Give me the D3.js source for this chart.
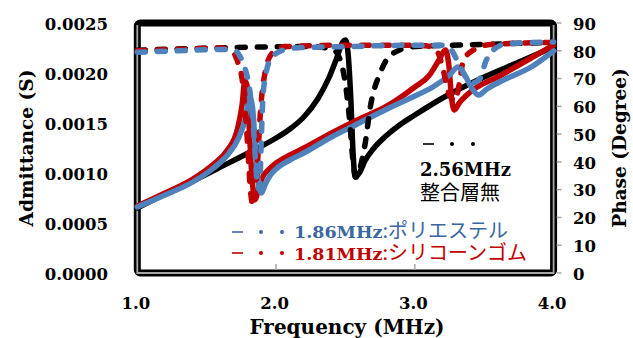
<!DOCTYPE html>
<html><head><meta charset="utf-8">
<script src="https://cdn.jsdelivr.net/npm/d3@7"></script>
<style>
html,body{margin:0;padding:0;background:#fff;}
svg{display:block;}
</style></head>
<body>
<svg id="chart" width="633" height="338"></svg>
<script>
// ---------- data ----------
const freqTicks = [1.0, 2.0, 3.0, 4.0];
const admTicks = [0, 0.0005, 0.0010, 0.0015, 0.0020, 0.0025];
const phaseTicks = [0, 10, 20, 30, 40, 50, 60, 70, 80, 90];

// No matching layer (2.56 MHz) : [MHz, S] and [MHz, deg]
const noLayerAdm = [[1.0,0.00065],[1.2,0.00079],[1.4,0.00092],[1.6,0.00106],[1.8,0.00120],[2.0,0.00135],[2.1,0.00144],[2.2,0.00156],[2.3,0.00174],[2.38,0.00195],[2.44,0.00216],[2.48,0.00231],[2.50,0.00233],[2.52,0.00218],[2.54,0.00170],[2.555,0.00120],[2.57,0.00096],[2.6,0.00100],[2.64,0.00112],[2.7,0.00124],[2.8,0.00138],[2.9,0.00149],[3.0,0.00158],[3.2,0.00175],[3.5,0.00196],[3.75,0.00211],[4.0,0.00226]];
const noLayerPhase = [[1.0,80.2],[1.4,80.8],[1.8,81.3],[2.2,81.5],[2.4,80.8],[2.46,77],[2.5,68],[2.53,55],[2.555,40],[2.575,34.5],[2.6,37],[2.64,46],[2.68,60],[2.75,72],[2.84,79],[3.0,81.5],[3.5,82.3],[4.0,83]];

// Silicone rubber (1.81 MHz)
const siliconeAdm = [[1.0,0.00067],[1.2,0.00080],[1.4,0.00094],[1.55,0.00109],[1.65,0.00123],[1.72,0.00143],[1.755,0.00168],[1.775,0.00192],[1.79,0.00188],[1.805,0.00150],[1.825,0.00098],[1.85,0.00074],[1.87,0.00082],[1.9,0.00095],[1.95,0.00104],[2.0,0.00110],[2.1,0.00118],[2.2,0.00125],[2.4,0.00140],[2.6,0.00154],[2.8,0.00167],[3.0,0.00186],[3.1,0.00197],[3.17,0.00212],[3.22,0.00223],[3.245,0.00208],[3.265,0.00175],[3.285,0.00163],[3.32,0.00170],[3.4,0.00181],[3.61,0.00197],[3.8,0.00212],[4.0,0.00228]];
const siliconePhase = [[1.0,80],[1.3,80.5],[1.6,81],[1.68,80],[1.72,76.5],[1.76,68],[1.79,50],[1.815,30],[1.835,24],[1.86,35],[1.89,60],[1.92,72],[1.97,79],[2.06,81.5],[2.5,82],[3.0,82],[3.12,81.5],[3.17,79],[3.21,72],[3.25,64],[3.29,62],[3.32,68],[3.35,76.5],[3.43,80.5],[3.55,82.3],[4.0,83]];

// Polyester (1.86 MHz)
const polyesterAdm = [[1.0,0.00066],[1.2,0.00078],[1.4,0.00091],[1.55,0.00105],[1.65,0.00118],[1.73,0.00135],[1.78,0.00155],[1.81,0.00176],[1.83,0.00166],[1.85,0.00128],[1.875,0.00088],[1.895,0.00080],[1.92,0.00088],[1.96,0.00098],[2.0,0.00104],[2.1,0.00113],[2.2,0.00120],[2.4,0.00136],[2.6,0.00150],[2.8,0.00164],[3.0,0.00177],[3.13,0.00186],[3.25,0.00198],[3.31,0.00206],[3.36,0.00198],[3.41,0.00185],[3.46,0.00178],[3.52,0.00184],[3.61,0.00191],[3.85,0.00207],[4.0,0.00222]];
const polyesterPhase = [[1.0,79.5],[1.3,80],[1.6,80.5],[1.7,80.2],[1.74,78],[1.78,73],[1.81,66],[1.84,50],[1.865,32],[1.88,30],[1.895,50],[1.905,63],[1.925,71],[1.96,77],[2.03,79.8],[2.12,81],[2.5,81.5],[3.0,82],[3.2,82],[3.26,80.5],[3.31,76],[3.36,71],[3.42,68.5],[3.47,70],[3.51,76],[3.57,80.5],[3.66,82.5],[4.0,83.2]];

// ---------- chart ----------
const svg = d3.select("#chart");
const L = 137.3, R = 553.6, T = 23, B = 273;
const x = d3.scaleLinear().domain([1, 4]).range([L, R]);
const yA = d3.scaleLinear().domain([0, 0.0025]).range([B, T]);
const yP = d3.scaleLinear().domain([0, 90]).range([B, T]);

const latin = "'DejaVu Serif', 'Liberation Serif', serif";
const cjk = "'Noto Sans CJK JP', 'Noto Sans', sans-serif";

// frame
svg.append("rect").attr("x", L).attr("y", T).attr("width", R - L).attr("height", B - T)
  .attr("fill", "#fff").attr("stroke", "#000").attr("stroke-width", 7).attr("rx", 3);
svg.append("path")
  .attr("d", `M${L},${T+2}L${L},${B}L${R},${B}L${R},${T+2}`)
  .attr("fill", "none").attr("stroke", "#a6a6a6").attr("stroke-width", 1.8);

// axes (ticks)
const xAxis = d3.axisBottom(x).tickValues(freqTicks).tickSize(0).tickFormat(d3.format(".1f"));
const gx = svg.append("g").attr("transform", `translate(-2,${B + 21})`).call(xAxis);
gx.select(".domain").remove();
gx.selectAll("text").attr("font-family", latin).attr("font-weight", "bold").attr("font-size", 16.5).attr("fill", "#000");

// x inner tick marks
svg.append("g").selectAll("line").data(freqTicks.slice(1, -1)).join("line")
  .attr("x1", d => x(d)).attr("x2", d => x(d)).attr("y1", B - 9).attr("y2", B - 3)
  .attr("stroke", "#a6a6a6").attr("stroke-width", 1.5);

const yAxisL = d3.axisLeft(yA).tickValues(admTicks).tickSize(0).tickFormat(d3.format(".4f"));
const gyl = svg.append("g").attr("transform", `translate(111,1)`).call(yAxisL);
gyl.select(".domain").remove();
gyl.selectAll("text").attr("font-family", latin).attr("font-weight", "bold").attr("font-size", 16.5).attr("fill", "#000");

const yAxisR = d3.axisRight(yP).tickValues(phaseTicks).tickSize(0).tickFormat(d3.format("d"));
const gyr = svg.append("g").attr("transform", `translate(570,1)`).call(yAxisR);
gyr.select(".domain").remove();
gyr.selectAll("text").attr("font-family", latin).attr("font-weight", "bold").attr("font-size", 16.5).attr("fill", "#000");

// right outer tick marks
svg.append("g").selectAll("line").data(phaseTicks).join("line")
  .attr("x1", R + 3).attr("x2", R + 8).attr("y1", d => yP(d)).attr("y2", d => yP(d))
  .attr("stroke", "#a6a6a6").attr("stroke-width", 1.5);

// lines
const lineA = d3.line().x(d => x(d[0])).y(d => yA(d[1])).curve(d3.curveMonotoneX);
const lineP = d3.line().x(d => x(d[0])).y(d => yP(d[1])).curve(d3.curveMonotoneX);
const black = "#000000", red = "#C00000", blue = "#4F81BD";
const solids = [[noLayerAdm, black], [siliconeAdm, red], [polyesterAdm, blue]];
const dashes = [[noLayerPhase, black], [siliconePhase, red], [polyesterPhase, blue]];
solids.forEach(([d, c]) => svg.append("path").attr("d", lineA(d)).attr("fill", "none")
  .attr("stroke", c).attr("stroke-width", 5.5).attr("stroke-linejoin", "round").attr("stroke-linecap", "round"));
dashes.forEach(([d, c]) => svg.append("path").attr("d", lineP(d)).attr("fill", "none")
  .attr("stroke", c).attr("stroke-width", 5.5).attr("stroke-dasharray", "8,12").attr("stroke-linecap", "round"));

// axis titles
svg.append("text").attr("transform", "translate(33,148) rotate(-90)").attr("text-anchor", "middle")
  .attr("font-family", latin).attr("font-weight", "bold").attr("font-size", 18.5).text("Admittance (S)");
svg.append("text").attr("transform", "translate(626,148) rotate(-90)").attr("text-anchor", "middle")
  .attr("font-family", latin).attr("font-weight", "bold").attr("font-size", 18.5).text("Phase (Degree)");
svg.append("text").attr("x", 347).attr("y", 334).attr("text-anchor", "middle")
  .attr("font-family", latin).attr("font-weight", "bold").attr("font-size", 20).text("Frequency (MHz)");

// annotation markers
function marker(x0, y0, color) {
  svg.append("line").attr("x1", x0).attr("x2", x0 + 11).attr("y1", y0).attr("y2", y0)
    .attr("stroke", color).attr("stroke-width", 1.6);
  svg.append("circle").attr("cx", x0 + 29).attr("cy", y0).attr("r", 2).attr("fill", color);
  svg.append("circle").attr("cx", x0 + 50).attr("cy", y0).attr("r", 2).attr("fill", color);
}
marker(423, 144, black);
svg.append("text").attr("x", 420).attr("y", 176).attr("font-family", latin).attr("font-weight", "bold")
  .attr("font-size", 18).attr("fill", black).text("2.56MHz");
svg.append("text").attr("x", 420).attr("y", 200).attr("font-family", cjk)
  .attr("font-size", 20).attr("fill", black).text("整合層無");

// legend entries
const legendBlue = "#3B679F";
marker(232, 232, legendBlue);
const t1 = svg.append("text").attr("x", 294).attr("y", 238).attr("fill", legendBlue);
t1.append("tspan").attr("font-family", latin).attr("font-weight", "bold").attr("font-size", 17.5).text("1.86MHz");
t1.append("tspan").attr("font-family", cjk).attr("font-size", 20).text(":ポリエステル");

marker(232, 253, red);
const t2 = svg.append("text").attr("x", 294).attr("y", 260).attr("fill", red);
t2.append("tspan").attr("font-family", latin).attr("font-weight", "bold").attr("font-size", 17.5).text("1.81MHz");
t2.append("tspan").attr("font-family", cjk).attr("font-size", 20).text(":シリコーンゴム");
</script>
</body></html>
